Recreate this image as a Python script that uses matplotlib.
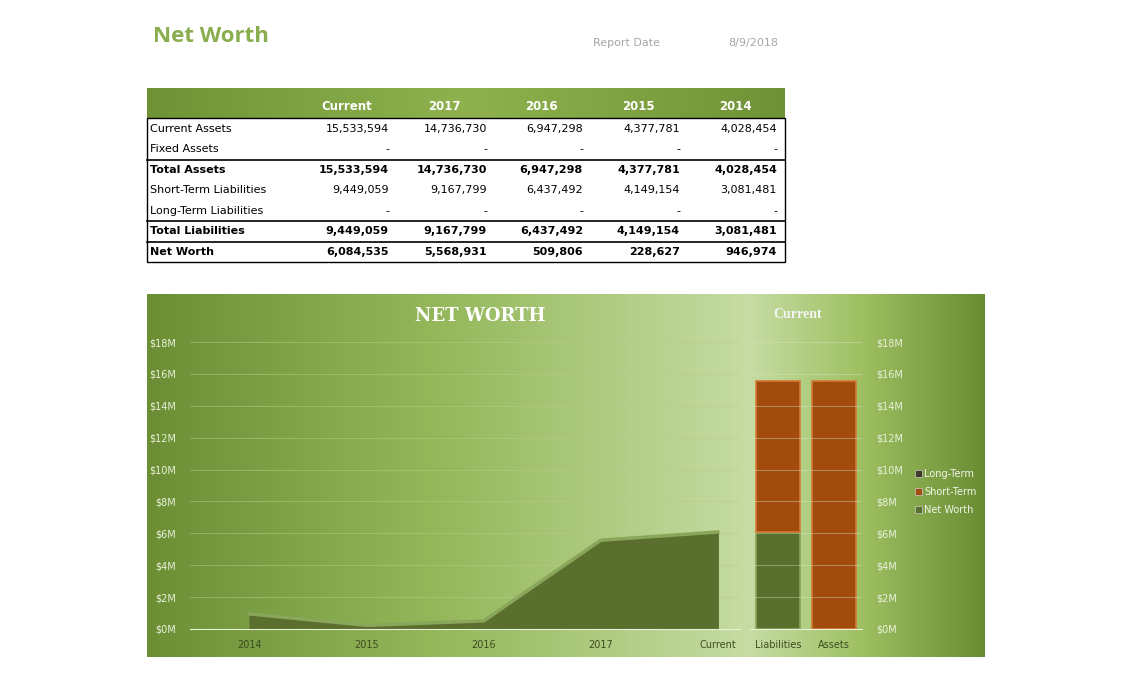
import matplotlib
matplotlib.use("Agg")
import matplotlib.pyplot as plt
import numpy as np
from matplotlib.patches import Rectangle
from matplotlib.lines import Line2D

W, H = 1140, 687
years = ["2014", "2015", "2016", "2017", "Current"]
net_worth = [946974, 228627, 509806, 5568931, 6084535]
cols = ["Current", "2017", "2016", "2015", "2014"]
rows = ["Current Assets", "Fixed Assets", "Total Assets", "Short-Term Liabilities",
        "Long-Term Liabilities", "Total Liabilities", "Net Worth"]
vals = [
    ["15,533,594", "14,736,730", "6,947,298", "4,377,781", "4,028,454"],
    ["-", "-", "-", "-", "-"],
    ["15,533,594", "14,736,730", "6,947,298", "4,377,781", "4,028,454"],
    ["9,449,059", "9,167,799", "6,437,492", "4,149,154", "3,081,481"],
    ["-", "-", "-", "-", "-"],
    ["9,449,059", "9,167,799", "6,437,492", "4,149,154", "3,081,481"],
    ["6,084,535", "5,568,931", "509,806", "228,627", "946,974"],
]
bold_rows = {2, 5, 6}
bar_cats = ["Liabilities", "Assets"]
bar_net = [6084535, 0]
bar_short = [9449059, 15533594]
bar_long = [0, 0]

fig = plt.figure(figsize=(W/100, H/100), dpi=100)
fig.patch.set_facecolor("white")

def fx(x): return x / W
def fy(y): return 1 - y / H

# Header text
fig.text(fx(153), fy(37), "Net Worth", color="#8aae4e", fontsize=16, fontweight="bold",
         va="center", family="Open Sans")
fig.text(fx(593), fy(43), "Report Date", color="#a6a6a6", fontsize=8, va="center")
fig.text(fx(728), fy(43), "8/9/2018", color="#a6a6a6", fontsize=8, va="center")

# Table
tax = fig.add_axes([0, 0, 1, 1]); tax.set_xlim(0, W); tax.set_ylim(H, 0); tax.axis("off")
grad = np.linspace(0, 1, 256)[None, :]
from matplotlib.colors import LinearSegmentedColormap
hcm = LinearSegmentedColormap.from_list("h", ["#6f9236", "#8fb24f", "#6f9236"])
tax.imshow(grad, cmap=hcm, extent=[147, 785, 118, 88], aspect="auto", zorder=1)
hx = [347, 444, 541, 638, 735]
for c, x in zip(cols, hx):
    tax.text(x, 107, c, color="white", fontsize=8.5, fontweight="bold", ha="center", va="center")
vx = [389, 487, 583, 680, 777]
ry = [129, 149, 170, 190, 211, 231, 252]
for i, (r, y) in enumerate(zip(rows, ry)):
    fw = "bold" if i in bold_rows else "normal"
    tax.text(150, y, r, fontsize=8, fontweight=fw, va="center", color="black")
    for v, x in zip(vals[i], vx):
        tax.text(x, y, v, fontsize=8, fontweight=fw, va="center", ha="right", color="black")
tax.add_patch(Rectangle((147, 118), 638, 144, fill=False, lw=1, ec="black", zorder=3))
for y in [160, 221]:
    tax.plot([147, 785], [y, y], color="black", lw=1.2)
tax.plot([147, 785], [241.5, 241.5], color="black", lw=1.2)

# Chart background
bcm = LinearSegmentedColormap.from_list("b", [(0, "#6c8f36"), (0.35, "#94b85a"),
                                             (0.72, "#c6dca4"), (0.85, "#9fc163"), (1, "#6a8d34")])
tax.imshow(grad, cmap=bcm, extent=[147, 985, 657, 294], aspect="auto", zorder=0)
tax.text(480, 316, "NET WORTH", color="white", fontsize=13, fontweight="bold",
         family="DejaVu Serif", ha="center", va="center")
tax.text(798, 315, "Current", color="#f4f4f4", fontsize=10, fontweight="bold",
         family="Liberation Serif", ha="center", va="center")

tick_color = "#eaf2dc"
def yfmt(v, p): return f"${int(v/1e6)}M"
bottom, top = fy(629), fy(342)

# Area axes
ax = fig.add_axes([fx(190), bottom, fx(740) - fx(190), top - bottom])
ax.patch.set_alpha(0)
x = np.arange(len(years))
ax.fill_between(x, net_worth, color="#5a6e2e", zorder=2)
ax.plot(x, net_worth, color="#8aa65a", lw=2.5, zorder=3)
ax.set_xlim(-0.51, 4.19); ax.set_ylim(0, 18e6)
ax.set_yticks(np.arange(0, 18.1e6, 2e6))
ax.yaxis.set_major_formatter(plt.FuncFormatter(yfmt))
ax.set_xticks(x); ax.set_xticklabels(years)
ax.grid(axis="y", color="#b5cc8a", lw=0.6, alpha=0.6)
for s in ax.spines.values(): s.set_visible(False)
ax.spines["bottom"].set_visible(True); ax.spines["bottom"].set_color("#e8f0d8")
ax.tick_params(axis="both", colors=tick_color, labelsize=7, length=0, pad=8)
ax.tick_params(axis="x", colors="#3d4d20", labelsize=7)
ax.yaxis.set_tick_params(pad=10)

# Bar axes
bx = fig.add_axes([fx(750), bottom, fx(862) - fx(750), top - bottom])
bx.patch.set_alpha(0)
bp = np.arange(len(bar_cats))
bx.bar(bp, bar_net, 0.78, color="#5a6e2e", ec="#87a35a", lw=1.2)
bx.bar(bp, bar_short, 0.78, bottom=bar_net, color="#a14c0c", ec="#d57a36", lw=1.2)
bx.bar(bp, bar_long, 0.78, bottom=np.add(bar_net, bar_short), color="#3e3a2a")
bx.set_xlim(-0.5, 1.5); bx.set_ylim(0, 18e6)
bx.set_xticks(bp); bx.set_xticklabels(bar_cats)
bx.yaxis.tick_right()
bx.set_yticks(np.arange(0, 18.1e6, 2e6))
bx.yaxis.set_major_formatter(plt.FuncFormatter(yfmt))
bx.grid(axis="y", color="#d6e4bd", lw=0.6, alpha=0.5)
for s in bx.spines.values(): s.set_visible(False)
bx.spines["bottom"].set_visible(True); bx.spines["bottom"].set_color("#e8f0d8")
bx.tick_params(axis="y", colors=tick_color, labelsize=7, length=0, pad=10)
bx.tick_params(axis="x", colors="#3d4d20", labelsize=7, length=0, pad=8)

handles = [Rectangle((0, 0), 1, 1, fc=c, ec="#cccccc", lw=0.5)
           for c in ["#3e3a2a", "#a14c0c", "#5a6e2e"]]
fig.legend(handles, ["Long-Term", "Short-Term", "Net Worth"], loc="center left",
           bbox_to_anchor=(fx(906), fy(492)), frameon=False, fontsize=7,
           labelcolor="#f0f4e8", handlelength=0.7, handleheight=0.7,
           handletextpad=0.3, labelspacing=0.8)

fig.savefig("out.png", dpi=100)
